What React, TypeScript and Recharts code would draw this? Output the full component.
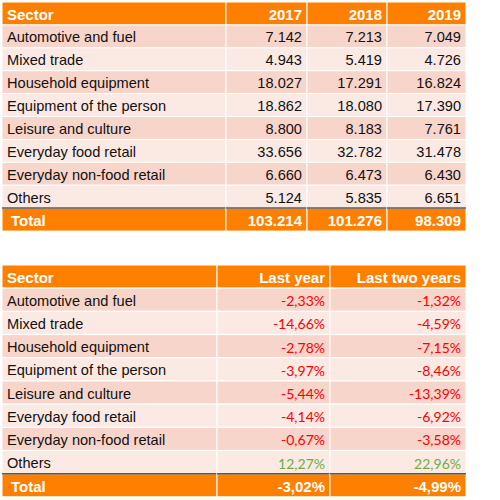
import { BarChart, Bar, XAxis, YAxis } from 'recharts';

const sectors = [
    'Automotive and fuel',
    'Mixed trade',
    'Household equipment',
    'Equipment of the person',
    'Leisure and culture',
    'Everyday food retail',
    'Everyday non-food retail',
    'Others',
];
const years = ['2017', '2018', '2019'];
const sales2017 = [7142, 4943, 18027, 18862, 8800, 33656, 6660, 5124];
const sales2018 = [7213, 5419, 17291, 18080, 8183, 32782, 6473, 5835];
const sales2019 = [7049, 4726, 16824, 17390, 7761, 31478, 6430, 6651];
const salesTotals = [103214, 101276, 98309];

const changeHeaders = ['Last year', 'Last two years'];
const changeLastYear = [-2.33, -14.66, -2.78, -3.97, -5.44, -4.14, -0.67, 12.27];
const changeTwoYears = [-1.32, -4.59, -7.15, -8.46, -13.39, -6.92, -3.58, 22.96];
const changeTotals = [-3.02, -4.99];

const ORANGE = '#FF8000';
const DARK_ROW = '#F8D5CA';
const LIGHT_ROW = '#FBE9E4';
const ARIAL = '"Liberation Sans", Arial, sans-serif';
const CALIBRI = 'Lato, "Open Sans", sans-serif';

const fmtThousands = (v: number) => v.toString().replace(/\B(?=(\d{3})+(?!\d))/g, '.');
const fmtPct = (v: number) => v.toFixed(2).replace('.', ',') + '%';

type Row = { key: string; kind: 'head' | 'body' | 'total'; cells: string[]; nums: (number | null)[] };

// tabla 1: ventas por sector
const salesRows: Row[] = [
    { key: 'head', kind: 'head', cells: ['Sector', ...years], nums: [] },
    ...sectors.map((s, i) => ({
        key: s,
        kind: 'body' as const,
        cells: [s, fmtThousands(sales2017[i]), fmtThousands(sales2018[i]), fmtThousands(sales2019[i])],
        nums: [null, sales2017[i], sales2018[i], sales2019[i]],
    })),
    { key: 'total', kind: 'total', cells: ['Total', ...salesTotals.map(fmtThousands)], nums: [] },
];

// tabla 2: variación
const changeRows: Row[] = [
    { key: 'head', kind: 'head', cells: ['Sector', ...changeHeaders], nums: [] },
    ...sectors.map((s, i) => ({
        key: s,
        kind: 'body' as const,
        cells: [s, fmtPct(changeLastYear[i]), fmtPct(changeTwoYears[i])],
        nums: [null, changeLastYear[i], changeTwoYears[i]],
    })),
    { key: 'total', kind: 'total', cells: ['Total', ...changeTotals.map(fmtPct)], nums: [] },
];

function makeShape(col: number, pct: boolean) {
    return (props: any) => {
        const { x, y, width, height, payload, index } = props;
        const row: Row = payload;
        const bg = row.kind === 'body' ? (index % 2 === 1 ? DARK_ROW : LIGHT_ROW) : ORANGE;
        const isFirst = col === 0;
        let color = '#111';
        let font = ARIAL;
        let weight: any = 'normal';
        let size = 14.6;
        if (row.kind !== 'body') {
            color = '#fff';
            weight = 'bold';
            size = 15;
        } else if (pct && !isFirst) {
            const n = row.nums[col] as number;
            color = n < 0 ? '#FF0000' : '#70AD47';
            font = CALIBRI;
            size = 14;
        }
        const tx = isFirst ? x + (row.kind === 'total' ? 9 : 5) : x + width - 5;
        return (
            <g>
                <rect x={x} y={y} width={width} height={height} fill={bg} stroke="#fff" strokeWidth={1} />
                {row.kind === 'total' && (
                    <line x1={x} x2={x + width} y1={y} y2={y} stroke="#595959" strokeWidth={1.5} />
                )}
                <text
                    x={tx}
                    y={y + height / 2 + 1}
                    textAnchor={isFirst ? 'start' : 'end'}
                    dominantBaseline="central"
                    fontFamily={font}
                    fontSize={size}
                    fontWeight={weight}
                    fill={color}
                >
                    {row.cells[col]}
                </text>
            </g>
        );
    };
}

function Table({ rows, widths, height, pct }: { rows: Row[]; widths: number[]; height: number; pct: boolean }) {
    const total = widths.reduce((a, b) => a + b, 0);
    return (
        <BarChart
            layout="vertical"
            width={total}
            height={height}
            data={rows}
            margin={{ top: 0, right: 0, bottom: 0, left: 0 }}
            barCategoryGap={0}
            barGap={0}
        >
            <XAxis type="number" hide domain={[0, total]} />
            <YAxis type="category" dataKey="key" hide />
            {widths.map((w, c) => (
                <Bar
                    key={c}
                    dataKey={() => w}
                    stackId="row"
                    isAnimationActive={false}
                    shape={makeShape(c, pct)}
                />
            ))}
        </BarChart>
    );
}

export default function App() {
    return (
        <div style={{ position: 'absolute', left: 0, top: 0, width: 500, height: 500, background: '#fff' }}>
            <div style={{ position: 'absolute', left: 2, top: 2 }}>
                <Table rows={salesRows} widths={[224, 81, 80, 79]} height={229} pct={false} />
            </div>
            <div style={{ position: 'absolute', left: 2, top: 265 }}>
                <Table rows={changeRows} widths={[215, 113, 136]} height={232} pct={true} />
            </div>
        </div>
    );
}
